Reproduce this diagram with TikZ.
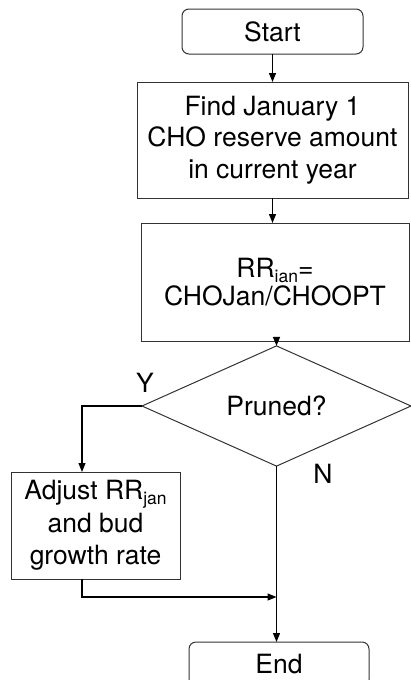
\documentclass[tikz,border=0pt]{standalone}
\usepackage{fontspec}
\setmainfont{TeX Gyre Heros}
\usetikzlibrary{shapes.geometric,arrows.meta}
\newcommand{\subtxt}[1]{\raisebox{-5pt}{\fontsize{17.5}{17.5}\selectfont #1}}
\begin{document}
\begin{tikzpicture}[x=1pt,y=-1pt,
  box/.style={draw=black!80, line width=1pt, inner sep=0pt, outer sep=0pt, align=center, font=\fontsize{26.5}{31.5}\selectfont},
  term/.style={box, rounded corners=7pt},
  arr/.style={line width=1.2pt, -{Triangle[length=9pt,width=7pt]}},
  lbl/.style={font=\fontsize{26.5}{31.5}\selectfont, inner sep=0pt}]
\useasboundingbox (0,0) rectangle (411,680);
\clip (0,0) rectangle (411,680);
\node[term, minimum width=181pt, minimum height=45pt] (start) at (272.5,31.5) {Start};
\node[box, minimum width=271pt, minimum height=116pt] (find) at (272.5,140) {Find January 1\\CHO reserve amount\\in current year};
\node[box, minimum width=268pt, minimum height=118pt] (rr) at (275,282) {RR\subtxt{ian}=\\[-3pt]CHOJan/CHOOPT};
\node[draw=black!80, line width=1pt, diamond, minimum width=269pt, minimum height=96pt, inner sep=0pt, outer sep=0pt, font=\fontsize{26.5}{31.5}\selectfont] (dec) at (276.5,406) {Pruned?};
\node[box, minimum width=169pt, minimum height=107pt, font=\fontsize{26.5}{32.5}\selectfont] (adj) at (95.5,525.5) {Adjust RR\subtxt{jan}\\and bud\\growth rate};
\node[term, minimum width=180pt, minimum height=45pt] (end) at (279,664.5) {End};
\node[lbl] (ylab) at (145,383) {Y};
\node[lbl] (nlab) at (323,474) {N};
\draw[arr] (start.south) -- (start.south |- find.north);
\draw[arr] (find.south) -- (find.south |- rr.north);
\draw[arr] (dec.north |- rr.south) -- (dec.north);
\coordinate (ycorner) at (82,406);
\draw[arr] (dec.west) -- (ycorner) -- (ycorner |- adj.north);
\coordinate (jcorner) at (82,597);
\draw[arr] (ycorner |- adj.south) -- (jcorner) -- (dec.south |- jcorner);
\draw[arr] (dec.south) -- (dec.south |- end.north);
\end{tikzpicture}
\end{document}
